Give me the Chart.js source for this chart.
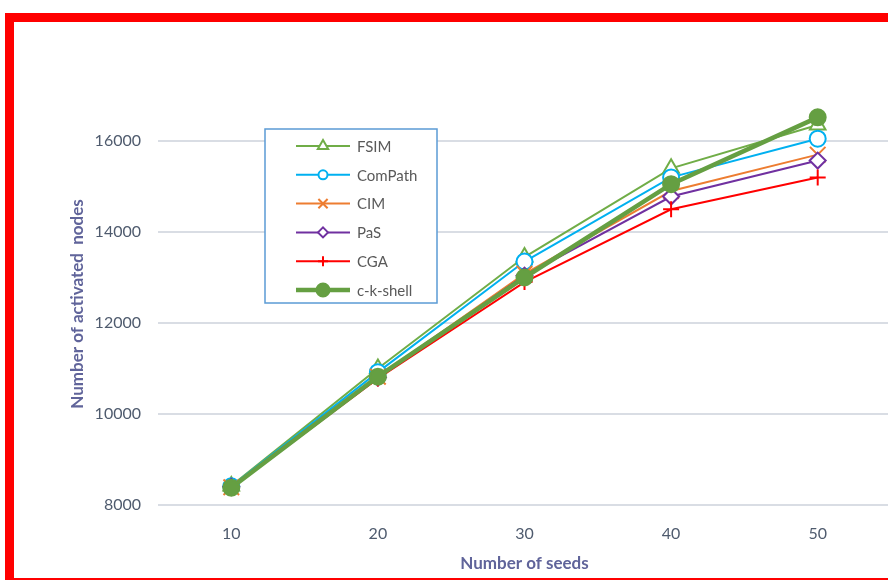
<!DOCTYPE html>
<html>
<head>
<meta charset="utf-8">
<script src="https://cdn.jsdelivr.net/npm/chart.js@4/dist/chart.umd.min.js"></script>
<style>
  html, body { margin: 0; padding: 0; background: #ffffff; overflow: hidden; width: 888px; height: 580px; }
  #wrap { position: absolute; left: 0; top: 0; width: 888px; height: 580px; overflow: hidden; }
  #c { position: absolute; left: 0; top: 0; }
  .frame { position: absolute; background: #ff0000; }
</style>
</head>
<body>
<div id="wrap">
  <canvas id="c" width="904" height="580"></canvas>
  <div class="frame" style="left:5px;top:13px;width:9px;height:567px"></div>
  <div class="frame" style="left:5px;top:13px;width:883px;height:9px"></div>
  <div class="frame" style="left:5px;top:578px;width:883px;height:2px"></div>
</div>
<script>
// Number of seeds on the x axis
const seeds = ['10', '20', '30', '40', '50'];

// Number of activated nodes for each method
const fsim     = [8420, 11000, 13450, 15400, 16350];
const comPath  = [8410, 10920, 13350, 15200, 16050];
const cim      = [8390, 10820, 13080, 14900, 15700];
const pas      = [8400, 10800, 13040, 14780, 15570];
const cga      = [8380, 10780, 12900, 14500, 15200];
const ckShell  = [8380, 10820, 13000, 15050, 16520];

// Value axis ticks
const yTicks = [8000, 10000, 12000, 14000, 16000];

const FONT = 'Lato, "Open Sans", sans-serif';
const TITLE_COLOR = '#60649A';
const TITLE_FONT = 'bold 17px ' + FONT;

function series(label, data, color, style, width, order, radius, legendRadius, filled) {
  return {
    label, data, order,
    borderColor: color,
    borderWidth: width,
    pointStyle: style,
    pointRadius: radius,
    pointHoverRadius: radius,
    pointBorderWidth: 2,
    pointBorderColor: color,
    pointBackgroundColor: filled ? color : '#ffffff',
    legendRadius,
    tension: 0,
    fill: false
  };
}

// Framed legend drawn inside the plot area
const boxLegend = {
  id: 'boxLegend',
  afterDraw(chart, args, o) {
    const ctx = chart.ctx;
    ctx.save();
    ctx.fillStyle = '#ffffff';
    ctx.fillRect(o.x, o.y, o.w, o.h);
    ctx.strokeStyle = '#5B9BD5';
    ctx.lineWidth = 1.5;
    ctx.strokeRect(o.x, o.y, o.w, o.h);
    ctx.font = '15px ' + FONT;
    ctx.textBaseline = 'middle';
    ctx.textAlign = 'left';
    chart.data.datasets.forEach((ds, i) => {
      const y = o.y + o.first + i * o.gap;
      ctx.strokeStyle = ds.borderColor;
      ctx.lineWidth = ds.borderWidth;
      ctx.beginPath();
      ctx.moveTo(o.x + o.lineStart, y);
      ctx.lineTo(o.x + o.lineEnd, y);
      ctx.stroke();
      ctx.fillStyle = ds.pointBackgroundColor;
      ctx.strokeStyle = ds.pointBorderColor;
      ctx.lineWidth = ds.pointBorderWidth;
      Chart.helpers.drawPoint(ctx, {
        pointStyle: ds.pointStyle, rotation: 0,
        radius: ds.legendRadius, borderWidth: ds.pointBorderWidth
      }, o.x + (o.lineStart + o.lineEnd) / 2, y);
      ctx.fillStyle = '#595959';
      ctx.fillText(ds.label, o.x + o.textX, y + 1);
    });
    ctx.restore();
  }
};

// Value axis title, set a little below the middle of the plot
const valueTitle = {
  id: 'valueTitle',
  afterDraw(chart, args, o) {
    const ctx = chart.ctx;
    ctx.save();
    ctx.translate(o.x, o.y);
    ctx.rotate(-Math.PI / 2);
    ctx.font = TITLE_FONT;
    ctx.fillStyle = TITLE_COLOR;
    ctx.textAlign = 'center';
    ctx.textBaseline = 'middle';
    ctx.fillText(o.text, 0, 0);
    ctx.restore();
  }
};

new Chart(document.getElementById('c'), {
  type: 'line',
  data: {
    labels: seeds,
    datasets: [
      series('FSIM', fsim, '#70AD47', 'triangle', 2, 6, 9, 6, false),
      series('ComPath', comPath, '#00B0F0', 'circle', 2, 5, 8, 4.5, false),
      series('CIM', cim, '#ED7D31', 'crossRot', 2, 4, 11, 6.5, false),
      series('PaS', pas, '#7030A0', 'rectRot', 2, 3, 8, 5, false),
      series('CGA', cga, '#FF0000', 'cross', 2, 2, 8, 5, false),
      series('c-k-shell', ckShell, '#659F42', 'circle', 4.5, 1, 8, 6.5, true)
    ]
  },
  options: {
    responsive: false,
    animation: false,
    layout: { padding: { top: 50, right: 4, bottom: 0, left: 0 } },
    plugins: {
      legend: { display: false },
      tooltip: { enabled: false },
      boxLegend: { x: 265, y: 129, w: 172, h: 174, first: 17, gap: 28.8, lineStart: 31, lineEnd: 85, textX: 92 },
      valueTitle: { x: 78, y: 304, text: 'Number of activated  nodes' }
    },
    scales: {
      x: {
        offset: true,
        grid: { display: false, drawTicks: false },
        border: { display: false },
        ticks: { color: '#4F5B6E', font: { family: FONT, size: 16 }, padding: 19, maxRotation: 0 },
        title: {
          display: true, text: 'Number of seeds', color: TITLE_COLOR,
          font: { family: FONT, size: 17, weight: 'bold' },
          padding: { top: 0, bottom: 6 }
        },
        afterFit(scale) { scale.height = 75; }
      },
      y: {
        min: 8000, max: 18000,
        grid: { color: '#D9DDE4', lineWidth: 2, drawTicks: false },
        border: { display: false },
        ticks: {
          stepSize: 2000, padding: 17, color: '#4F5B6E',
          font: { family: FONT, size: 16 },
          callback: v => String(v)
        },
        afterBuildTicks(scale) { scale.ticks = yTicks.map(v => ({ value: v })); },
        title: { display: false },
        afterFit(scale) { scale.width = 158; }
      }
    }
  },
  plugins: [boxLegend, valueTitle]
});
</script>
</body>
</html>
